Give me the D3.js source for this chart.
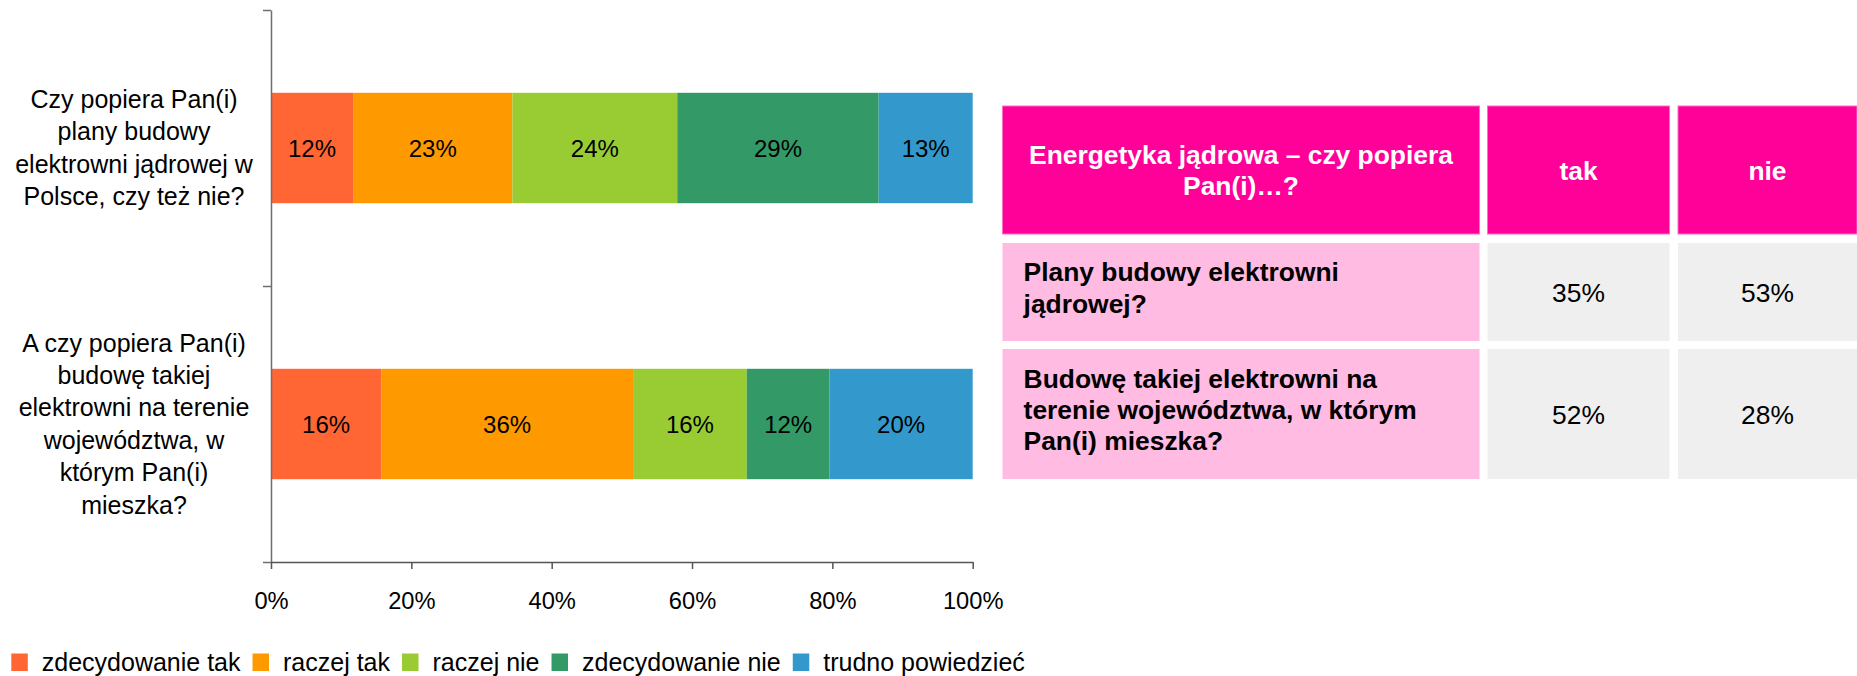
<!DOCTYPE html>
<html>
<head>
<meta charset="utf-8">
<script src="https://cdn.jsdelivr.net/npm/d3@7"></script>
<style>
  body { margin: 0; background: #fff; }
  svg { display: block; font-family: "Liberation Sans", Arial, sans-serif; }
</style>
</head>
<body>
<script>
// ==================================================
// data
// ==================================================
const categories = [
    ['Czy popiera Pan(i)', 'plany budowy', 'elektrowni jądrowej w', 'Polsce, czy też nie?'],
    ['A czy popiera Pan(i)', 'budowę takiej', 'elektrowni na terenie', 'województwa, w', 'którym Pan(i)', 'mieszka?']
];
const seriesNames = ['zdecydowanie tak', 'raczej tak', 'raczej nie', 'zdecydowanie nie', 'trudno powiedzieć'];
const zdecydowanieTak = [11.7, 15.7];
const raczejTak = [22.7, 35.9];
const raczejNie = [23.5, 16.2];
const zdecydowanieNie = [28.7, 11.8];
const trudnoPowiedziec = [13.4, 20.4];
const xTicks = [0, 20, 40, 60, 80, 100];

const tableHeader = [['Energetyka jądrowa – czy popiera', 'Pan(i)…?'], ['tak'], ['nie']];
const tableQuestions = [
    ['Plany budowy elektrowni', 'jądrowej?'],
    ['Budowę takiej elektrowni na', 'terenie województwa, w którym', 'Pan(i) mieszka?']
];
const takValues = [35, 52];
const nieValues = [53, 28];

const seriesColors = ['#FF6633', '#FF9900', '#99CC33', '#339966', '#3399CC'];

function multiLine(sel, lines, x, cy, lh) {
    const top = cy - (lines.length - 1) * lh / 2;
    lines.forEach((l, i) => {
        sel.append('tspan')
            .attr('x', x)
            .attr('y', top + i * lh)
            .text(l);
    });
}

function renderSVG() {
    const width = 1857;
    const height = 676;
    const plot = { left: 271, right: 972.7, top: 10, bottom: 562 };

    const svg = d3.select('body')
        .append('svg')
        .attr('width', width)
        .attr('height', height);

    // ==================================================
    // scales
    // ==================================================
    const scaleX = d3.scaleLinear()
        .domain([0, 100])
        .range([plot.left, plot.right]);

    const scaleY = d3.scaleBand()
        .domain(d3.range(categories.length))
        .range([plot.top, plot.bottom])
        .paddingInner(0.6)
        .paddingOuter(0.3);

    // ==================================================
    // stacked bars
    // ==================================================
    const allSeries = [zdecydowanieTak, raczejTak, raczejNie, zdecydowanieNie, trudnoPowiedziec];
    const rows = categories.map((c, i) => {
        const r = { idx: i };
        seriesNames.forEach((s, k) => { r[s] = allSeries[k][i]; });
        return r;
    });
    const stacked = d3.stack().keys(seriesNames)(rows);

    const layers = svg.selectAll('g.layer')
        .data(stacked)
        .enter()
        .append('g')
        .attr('class', 'layer')
        .attr('fill', (d, k) => seriesColors[k]);

    layers.selectAll('rect')
        .data(d => d)
        .enter()
        .append('rect')
        .attr('x', d => scaleX(d[0]))
        .attr('y', d => scaleY(d.data.idx))
        .attr('width', d => scaleX(d[1]) - scaleX(d[0]))
        .attr('height', scaleY.bandwidth());

    layers.selectAll('text')
        .data(d => d)
        .enter()
        .append('text')
        .attr('x', d => (scaleX(d[0]) + scaleX(d[1])) / 2)
        .attr('y', d => scaleY(d.data.idx) + scaleY.bandwidth() / 2)
        .attr('dy', '0.36em')
        .attr('text-anchor', 'middle')
        .attr('font-size', '24px')
        .attr('fill', '#000')
        .text(d => d3.format('.0f')(d[1] - d[0]) + '%');

    // ==================================================
    // axes
    // ==================================================
    const edgeScale = d3.scaleLinear()
        .domain([0, categories.length])
        .range([plot.top, plot.bottom]);

    const yAxis = svg.append('g')
        .attr('transform', `translate(${plot.left}, 0)`)
        .call(d3.axisLeft(edgeScale)
            .tickValues(d3.range(categories.length + 1))
            .tickFormat('')
            .tickSize(8)
            .tickSizeOuter(0));
    yAxis.selectAll('path, line').attr('stroke', '#6e6e6e').attr('stroke-width', 1.5);

    const xAxis = svg.append('g')
        .attr('transform', `translate(0, ${plot.bottom})`)
        .call(d3.axisBottom(scaleX)
            .tickValues(xTicks)
            .tickFormat(d => d + '%')
            .tickSize(7)
            .tickSizeOuter(0));
    xAxis.selectAll('path, line').attr('stroke', '#555').attr('stroke-width', 1.5);
    xAxis.selectAll('text')
        .attr('y', 47)
        .attr('dy', null)
        .attr('font-size', '23.7px')
        .attr('font-family', '"Liberation Sans", Arial, sans-serif')
        .attr('fill', '#000');

    // category labels
    categories.forEach((lines, i) => {
        const t = svg.append('text')
            .attr('text-anchor', 'middle')
            .attr('font-size', '25px')
            .attr('fill', '#000');
        multiLine(t, lines, 134, scaleY(i) + scaleY.bandwidth() / 2 + 8.5, 32.4);
    });

    // ==================================================
    // legend
    // ==================================================
    const legend = svg.append('g').attr('class', 'legend');
    let lx = 11.3;
    seriesNames.forEach((name, k) => {
        legend.append('rect')
            .attr('x', lx)
            .attr('y', 653.5)
            .attr('width', 16.5)
            .attr('height', 17.5)
            .attr('fill', seriesColors[k]);
        const t = legend.append('text')
            .attr('x', lx + 30.5)
            .attr('y', 671)
            .attr('font-size', '25px')
            .attr('fill', '#000')
            .text(name);
        lx = lx + 30.5 + t.node().getComputedTextLength() + 12;
    });

    // ==================================================
    // table
    // ==================================================
    const colX = [1002.5, 1487.5, 1678];
    const colW = [477, 182, 179];
    const rowY = [106, 243, 349];
    const rowH = [128, 98, 130];
    const table = svg.append('g').attr('class', 'table');

    tableHeader.forEach((lines, c) => {
        table.append('rect')
            .attr('x', colX[c]).attr('y', rowY[0])
            .attr('width', colW[c]).attr('height', rowH[0])
            .attr('fill', '#FF0099')
            .attr('stroke', '#FF6EC4')
            .attr('stroke-width', 1);
        const t = table.append('text')
            .attr('text-anchor', 'middle')
            .attr('font-size', '26.4px')
            .attr('font-weight', 'bold')
            .attr('fill', '#fff');
        multiLine(t, lines, colX[c] + colW[c] / 2, rowY[0] + rowH[0] / 2 + 9.5, 31);
    });

    tableQuestions.forEach((lines, r) => {
        const y = rowY[r + 1], h = rowH[r + 1];
        table.append('rect')
            .attr('x', colX[0]).attr('y', y)
            .attr('width', colW[0]).attr('height', h)
            .attr('fill', '#FFBBE1');
        const t = table.append('text')
            .attr('font-size', '26.4px')
            .attr('font-weight', 'bold')
            .attr('fill', '#000');
        multiLine(t, lines, 1023.6, y + h / 2 + 5, 31.3);

        [takValues[r], nieValues[r]].forEach((v, c) => {
            table.append('rect')
                .attr('x', colX[c + 1]).attr('y', y)
                .attr('width', colW[c + 1]).attr('height', h)
                .attr('fill', '#EFEFEF');
            table.append('text')
                .attr('x', colX[c + 1] + colW[c + 1] / 2)
                .attr('y', y + h / 2 + 9.5)
                .attr('text-anchor', 'middle')
                .attr('font-size', '26.4px')
                .attr('fill', '#000')
                .text(v + '%');
        });
    });
}

window.addEventListener('load', function() {
    requestAnimationFrame(renderSVG);
});
</script>
</body>
</html>
